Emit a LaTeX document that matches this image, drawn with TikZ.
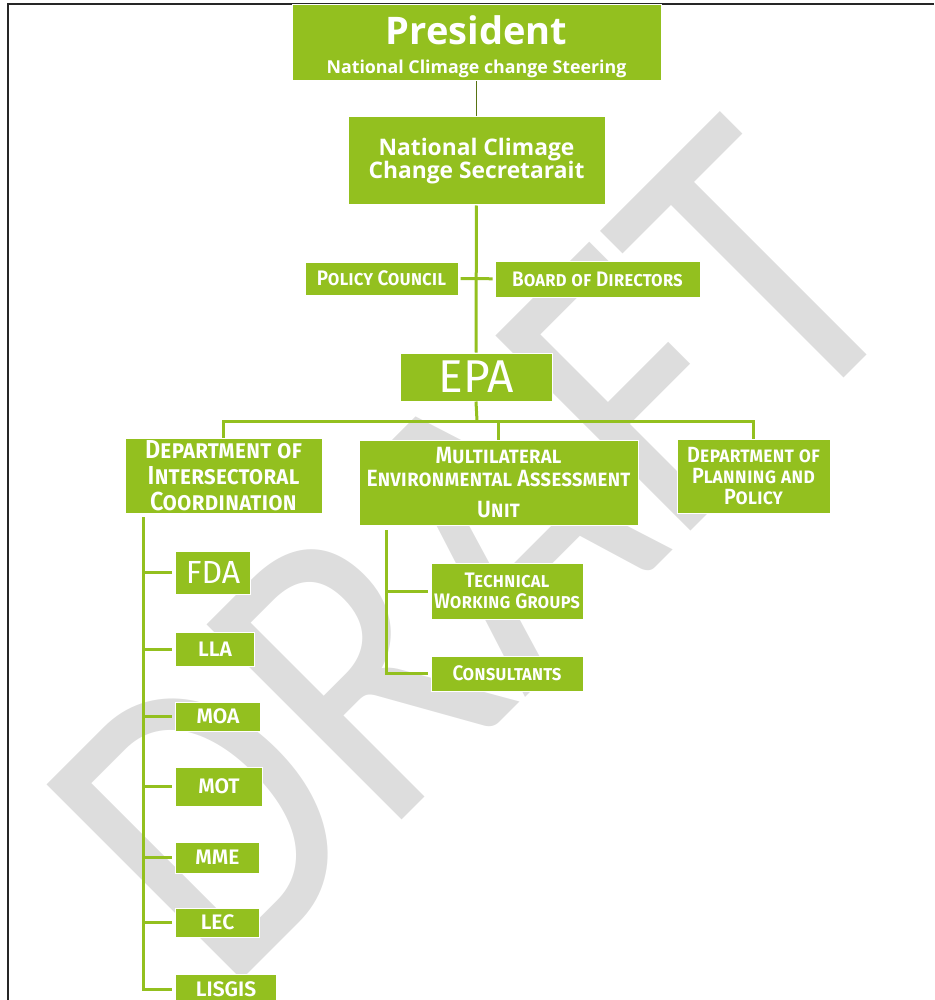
\documentclass[tikz,border=0pt]{standalone}
\usepackage{fontspec}
\setmainfont{Open Sans}
\newfontfamily\twfont[FakeStretch=0.9,BoldFont={Fira Sans SemiBold}]{Fira Sans}
\newfontfamily\twwide[BoldFont={Fira Sans SemiBold}]{Fira Sans}
\newfontfamily\wmfont{Carlito}
\definecolor{epagreen}{RGB}{147,192,31}
\definecolor{wmgray}{RGB}{221,221,221}

\begin{document}
\begin{tikzpicture}[x=1pt,y=-1pt,
   box/.style={fill=epagreen,draw=white,line width=1pt,text=white,inner sep=0pt,align=center},
   lbl/.style={text=white,inner sep=0pt,anchor=base},
   scbox/.style={box,font=\twfont\bfseries\scshape\fontsize{21}{21}\selectfont},
   abbr/.style={box,minimum width=#1,anchor=west,font=\twwide\bfseries\fontsize{21}{21}\selectfont},
   conn/.style={draw=epagreen,line width=3pt}]
\useasboundingbox (0,0) rectangle (934,1000);
% watermark
\node[text=wmgray,inner sep=0pt,rotate=45,xscale=0.85,font=\wmfont\fontsize{430}{430}\selectfont]
   (draft) at (474,553) {DRAFT};
\draw[line width=2pt,black!85] (8,1000) -- (8,4) -- (934,4);

% top of the chart
\node[box,minimum width=369,minimum height=76] (pres) at (476.5,43) {};
\node[lbl,font=\bfseries\fontsize{38}{40}\selectfont] (prestitle) at (476.5,45) {President};
\node[lbl,font=\bfseries\fontsize{17.8}{20}\selectfont] (pressub) at (476.5,74) {National Climage change Steering};
\node[box,minimum width=257,minimum height=88,font=\bfseries\fontsize{22.8}{23}\selectfont]
   (sec) at (476.5,161) {National Climage\\Change Secretarait};
\node[scbox,minimum width=153,minimum height=33] (pc) at (381.5,278.5) {Policy Council};
\node[scbox,minimum width=205,minimum height=36] (bod) at (597.5,279) {Board of Directors};
\node[box,minimum width=152,minimum height=48,font=\twwide\fontsize{46}{46}\selectfont] (epa) at (476,377) {EPA};

% departments
\node[scbox,minimum width=197,minimum height=75,font=\twfont\bfseries\scshape\fontsize{26}{26}\selectfont]
   (dic) at (223.5,475.5) {Department of\\Intersectoral\\Coordination};
\node[scbox,minimum width=279,minimum height=85,font=\twfont\bfseries\scshape\fontsize{23.5}{23}\selectfont]
   (meau) at (498.5,482.5) {Multilateral\\Environmental Assessment\\[8pt]Unit};
\node[scbox,minimum width=153,minimum height=74,font=\twfont\bfseries\scshape\fontsize{22}{21}\selectfont]
   (dpp) at (753.5,476) {Department of\\Planning and\\Policy};

% agencies
\node[abbr=75,minimum height=43,font=\twwide\fontsize{32}{32}\selectfont] (fda) at (175,572.5) {FDA};
\node[abbr=79,minimum height=34] (lla) at (175,649) {LLA};
\node[abbr=85,minimum height=29] (moa) at (175,716.5) {MOA};
\node[abbr=87,minimum height=39] (mot) at (175,786.5) {MOT};
\node[abbr=84,minimum height=31] (mme) at (175,857.5) {MME};
\node[abbr=84,minimum height=29] (lec) at (175,922.5) {LEC};
\node[abbr=101,minimum height=30] (lisgis) at (175,989) {LISGIS};
\node[scbox,minimum width=152,minimum height=56] (twg) at (507,591) {Technical\\Working Groups};
\node[scbox,minimum width=152,minimum height=35] (cons) at (507,673.5) {Consultants};

% connectors
\draw[conn,draw=epagreen!60!black,line width=1.4pt] (pres) -- (sec);
\draw[conn] (sec) -- (epa);
\draw[conn,shorten <=2pt,shorten >=2pt] (pc) -- (bod);
\coordinate (bus) at (477,421);
\draw[conn] (epa.south) -- (bus);
\draw[conn] (dic.north) |- (dpp.north |- bus) -- (dpp.north);
\draw[conn] (meau.north) -- (meau.north |- bus);
\coordinate (dicspine) at (143,517);
\draw[conn,shorten >=3pt] (dicspine) |- (lisgis.west);
\foreach \n in {fda,lla,moa,mot,mme,lec}
   \draw[conn,shorten >=3pt] (dicspine |- \n.west) -- (\n.west);
\coordinate (meauspine) at (386,530);
\draw[conn,shorten >=3pt] (meauspine) |- (cons.west);
\draw[conn,shorten >=3pt] (meauspine |- twg.west) -- (twg.west);
\end{tikzpicture}
\end{document}
